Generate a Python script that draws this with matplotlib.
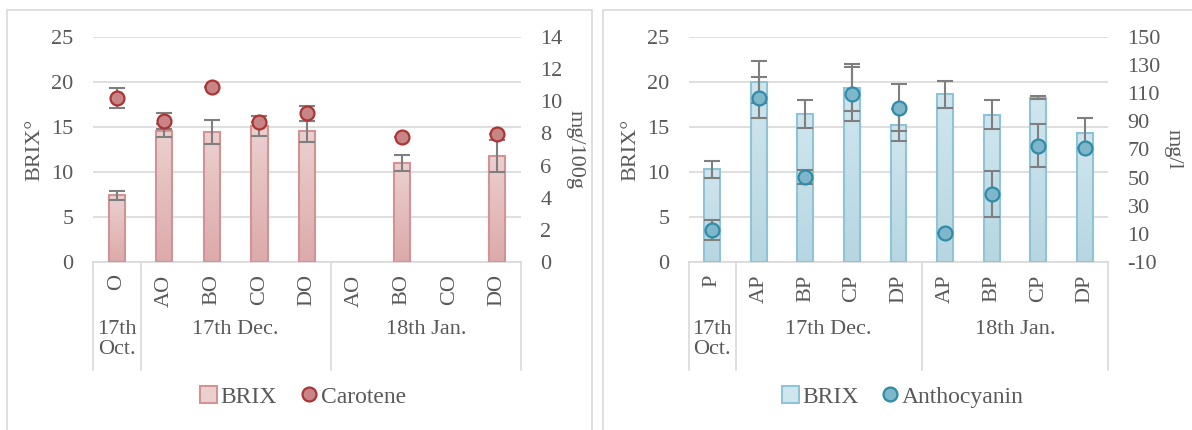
import numpy as np
import matplotlib
matplotlib.use("Agg")
import matplotlib.pyplot as plt
from matplotlib.patches import Patch, Rectangle
from matplotlib.lines import Line2D
from matplotlib.colors import LinearSegmentedColormap

plt.rcParams['font.family'] = ['Liberation Serif', 'DejaVu Serif']
plt.rcParams['font.size'] = 16
plt.rcParams['axes.unicode_minus'] = False

nan = np.nan

# ---- left chart data (carotene) ----
cats_left = ['O', 'AO', 'BO', 'CO', 'DO', 'AO', 'BO', 'CO', 'DO']
groups_left = ['17th\nOct.', '17th Dec.', '18th Jan.']
brix_left = [7.4, 14.6, 14.45, 15.1, 14.5, nan, 11.0, nan, 11.8]
brix_left_err = [0.5, 0.73, 1.3, 1.08, 1.22, nan, 0.85, nan, 1.8]
carotene = [10.22, 8.79, 10.87, 8.69, 9.25, nan, 7.8, nan, 7.97]
carotene_err = [0.62, 0.5, 0, 0, 0.45, nan, 0, nan, 0]

# ---- right chart data (anthocyanin) ----
cats_right = ['P', 'AP', 'BP', 'CP', 'DP', 'AP', 'BP', 'CP', 'DP']
groups_right = ['17th\nOct.', '17th Dec.', '18th Jan.']
brix_right = [10.3, 20.03, 16.44, 19.37, 15.22, 18.63, 16.37, 18.26, 14.3]
brix_right_err = [0.92, 2.33, 1.6, 2.6, 1.75, 1.48, 1.6, 0.2, 1.67]
antho = [12.7, 106.8, 50.7, 109.6, 99.8, 10.8, 38.1, 72.7, 70.8]
antho_err = [7.4, 14.7, 5.0, 19.0, 17.0, 0, 16.4, 15.1, 0]

group_bounds = [-0.5, 0.5, 4.5, 8.5]
group_centers = [0, 2.5, 6.5]

text_c = '#595959'
grid_c = '#d9d9d9'
err_c = '#7f7f7f'
fs = 16

W, H = 1192, 430
fig = plt.figure(figsize=(W / 100, H / 100), dpi=100)

# panel borders
for x0, x1 in [(7, 592), (603, 1200)]:
    fig.patches.append(Rectangle((x0 / W, -0.05), (x1 - x0) / W, 1 - 10 / H + 0.05,
                                 transform=fig.transFigure, fill=False,
                                 edgecolor=grid_c, lw=1.2))


def draw_panel(rect, cats, groups, brix, brix_err, sec, sec_err, sec_lim, sec_ticks,
               sec_label, sec_name, bar_top, bar_bot, bar_edge, mk_face, mk_edge,
               leg_x):
    ax = fig.add_axes(rect)
    x = np.arange(len(cats))
    ax.set_yticks(range(0, 26, 5))
    ax.yaxis.grid(True, color=grid_c, lw=1.2)
    ax.set_axisbelow(True)

    # gradient bars
    cmap = LinearSegmentedColormap.from_list('g', [bar_bot, bar_top])
    grad = np.linspace(0, 1, 64).reshape(-1, 1)
    bw = 0.34
    for xi, v in zip(x, brix):
        if np.isnan(v):
            continue
        ax.imshow(grad, extent=[xi - bw / 2, xi + bw / 2, 0, v], origin='lower',
                  cmap=cmap, aspect='auto', zorder=2)
        ax.add_patch(Rectangle((xi - bw / 2, 0), bw, v, fill=False,
                               edgecolor=bar_edge, lw=1.5, zorder=3))
    ax.set_xlim(-0.5, len(cats) - 0.5)
    ax.set_ylim(0, 25)
    ax.errorbar(x, brix, yerr=brix_err, fmt='none', ecolor=err_c, elinewidth=1.5,
                capsize=5.5, capthick=1.5, zorder=4)

    for s in ['top', 'left', 'right']:
        ax.spines[s].set_visible(False)
    ax.spines['bottom'].set_color(grid_c)
    ax.spines['bottom'].set_linewidth(1.2)
    ax.tick_params(axis='both', length=0, colors=text_c, labelsize=fs)
    ax.tick_params(axis='y', pad=14)
    ax.set_xticks(x)
    ax.set_xticklabels(cats, rotation=90)
    ax.tick_params(axis='x', pad=9)
    ax.set_ylabel('BRIX°', color=text_c, fontsize=fs, labelpad=5)

    # group labels and separators
    for b in group_bounds:
        ax.add_line(Line2D([b, b], [0, -0.48], transform=ax.get_xaxis_transform(),
                           color=grid_c, lw=1.2, clip_on=False))
    for gx, g in zip(group_centers, groups):
        ax.text(gx, -0.26, g, transform=ax.get_xaxis_transform(), ha='center',
                va='top', color=text_c, fontsize=fs, linespacing=1.0)

    ax2 = ax.twinx()
    ax2.set_ylim(*sec_lim)
    ax2.set_yticks(sec_ticks)
    for s in ['top', 'left', 'right', 'bottom']:
        ax2.spines[s].set_visible(False)
    ax2.tick_params(axis='y', length=0, colors=text_c, labelsize=fs, pad=14)
    ax2.errorbar(x, sec, yerr=sec_err, fmt='none', ecolor=err_c, elinewidth=1.5,
                 capsize=5.5, capthick=1.5, zorder=3)
    ax2.plot(x, sec, 'o', ms=10, mfc=mk_face, mec=mk_edge, mew=1.6, ls='none', zorder=4)
    ax2.set_ylabel(sec_label, color=text_c, fontsize=fs, rotation=270, labelpad=16)

    handles = [Patch(facecolor=bar_top, edgecolor=bar_edge, lw=1.5),
               Line2D([], [], marker='o', ls='none', ms=10, mfc=mk_face, mec=mk_edge, mew=1.6)]
    fig.legend(handles, ['BRIX', sec_name], loc='center', bbox_to_anchor=(leg_x, 1 - 397 / H),
               ncol=2, frameon=False, fontsize=17, labelcolor=text_c, handlelength=0.7,
               handleheight=0.7, handletextpad=0.15, columnspacing=1.0)
    return ax


draw_panel([93 / W, 1 - 262 / H, 428 / W, 225 / H], cats_left, groups_left,
           brix_left, brix_left_err, carotene, carotene_err, (0, 14), range(0, 15, 2),
           'mg/100g', 'Carotene', '#ecd0d0', '#dcaaaa', '#d39393', '#c98585', '#ab3535',
           303 / W)

draw_panel([689 / W, 1 - 262 / H, 419 / W, 225 / H], cats_right, groups_right,
           brix_right, brix_right_err, antho, antho_err, (-10, 150), range(-10, 151, 20),
           'mg/l', 'Anthocyanin', '#d0e6ee', '#b6d6e2', '#8fc4d6', '#7fb6c9', '#2f8ca8',
           903 / W)

fig.savefig('out.png', dpi=100)
